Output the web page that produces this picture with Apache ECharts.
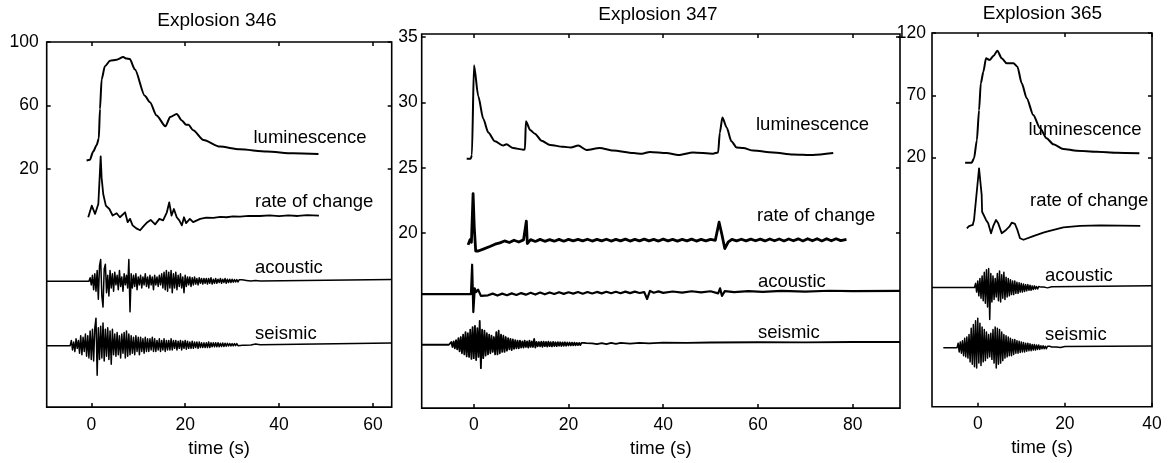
<!DOCTYPE html>
<html><head><meta charset="utf-8">
<script src="https://cdn.jsdelivr.net/npm/echarts@6/dist/echarts.min.js"></script>
<style>html,body{margin:0;padding:0;background:#fff}#c{width:1175px;height:463px}</style>
</head><body><div id="c"></div>
<script>
// ---------- DATA ----------
const titles = ['Explosion 346', 'Explosion 347', 'Explosion 365'];
const traceNames = ['luminescence', 'rate of change', 'acoustic', 'seismic'];
const xAxisName = 'time (s)';
const burstStep = 0.25; // sampling interval (s) of the burst arrays below

// ===== Explosion 346 =====
const x346Ticks = [0, 20, 40, 60];
const y346Labels = [20, 60, 100];
const lum346 = [[-1.0,25.4],[-0.3,25.8],[0.4,31.0],[1.15,35.1],[1.6,39.2],[1.85,57.8],[2.2,76.4],[2.9,84.7],[4.0,88.2],[5.4,88.8],[6.8,90.5],[7.5,89.6],[8.2,89.3],[9.3,82.6],[11.4,66.1],[12.5,62.0],[13.9,53.7],[15.8,46.9],[16.8,52.7],[18.2,54.7],[19.3,50.6],[20.2,47.9],[20.7,47.9],[21.7,44.4],[23.9,38.3],[27.4,34.1],[31.6,32.4],[37.4,31.0],[43.0,29.9],[48.4,29.5]];
const rate346 = [[-0.65,-10.4],[0.1,-3.1],[0.8,-8.3],[1.5,-2.1],[2.0,27.9],[2.2,14.4],[2.55,4.1],[3.1,-3.1],[3.85,-5.2],[4.55,-9.3],[5.4,-7.9],[6.1,-10.4],[7.2,-7.3],[7.75,-13.5],[8.25,-11.4],[8.8,-15.5],[9.7,-17.6],[10.4,-18.6],[11.1,-16.2],[11.95,-13.5],[12.65,-12.1],[13.6,-14.9],[14.5,-11.4],[15.3,-12.4],[16.1,-7.3],[16.6,-1.1],[17.1,-9.3],[17.6,-5.2],[18.2,-10.4],[18.75,-12.4],[19.3,-15.5],[19.75,-10.4],[20.2,-14.1],[21.0,-11.4],[21.7,-13.5],[23.2,-11.4],[24.5,-10.6],[26.0,-10.8],[27.5,-10.2],[28.8,-10.4],[30.2,-9.9],[31.7,-10.0],[33.5,-9.5],[35.9,-9.6],[38,-9.2],[40,-9.7],[42,-9.2],[44,-9.6],[46,-9.1],[48.5,-9.4]];
const ac346Pre = [[-9.5,-50.7]];
const ac346BurstStart = -0.5;
const ac346Burst = [
  -50.7,-48.5,-53,-47,-56,-46,-57,-44,
  -62,-41,-37,-60,-67,-43,-40,-58,
  -47,-60,-44,-55,-46,-57,-45,-53,
  -47,-56,-44,-54,-48,-57,-46,-53,
  -47,-55,-37,-70,-46,-55,-47,-54,
  -46,-56,-48,-53,-47,-55,-48,-53,
  -46,-54,-48,-55,-47,-53,-48,-56,
  -47,-53,-48,-54,-47,-53,-46,-55,
  -45,-56,-44,-57,-45,-55,-44,-58,
  -46,-55,-45,-56,-47,-54,-46,-55,
  -48,-58,-47,-54,-48,-53,-48,-54,
  -48.5,-53,-48,-52.5,-49,-53,-48.5,-52,
  -49,-52.5,-49,
  -52,-49,-52.5,-49,-52,-48.5,-52.5,-49.5,
  -52,-49,-52,-49.5,-51.5,-49,-52,-49.5,
  -51.5,-49,-52,-49.5,-51.5,-49.5,-51.5,-49.5,
  -51.3,-49.6,-51.2,-49.7,-51.2,-49.8,-51,-49.8,
  -51,-50,-50.8,-50.2];
const ac346Post = [[34,-50.6],[35,-50.2],[36,-50.5],[64,-49.6]];
const se346Pre = [[-9.5,-91.4]];
const se346BurstStart = -4.5;
const se346Burst = [
  -91.3,-88,-94,-89,-95,-87,-93,-88,
  -96,-85,-97,-86,-95,-84,-98,-85,
  -99,-82,-100,-81,-101,-80,-74,-110,
  -80,-100,-79,-99,-77,-101,-81,-98,
  -80,-100,-82,-103,-81,-97,-84,-98,
  -83,-97,-85,-99,-84,-96,-83,-99,
  -82,-98,-84,-97,-85,-96,-86,-97,
  -85,-95,-86,-97,-86,-95,-87,-96,
  -86,-95,-87,-95,-87,-94,-86,-95,
  -87,-95,-88,-94,-87,-95,-88,-94,
  -87,-95,-88,-94,-88,-94,-87,-94,
  -88,-93,-88,-94,-88.5,-93,-88,-94,
  -88.5,-93,-88,-93.5,-88.5,-93,-89,-93,
  -88.5,-93,-89,-92.5,-89,-93,-89,-92.5,
  -89.5,-92.5,-89.5,
  -92.5,-89.5,-92.5,-89,-92.5,-89.5,-92,-89.5,
  -92,-89.5,-92,-89.5,-92,-89.8,-91.8,-89.6,
  -91.8,-89.8,-91.7,-89.8,-91.5,-89.9,-91.5,-90,
  -91.4,-90,-91.3,-90,-91.3,-90.1,-91.2,-90.2,
  -91.1,-90.2,-91,-90.3];
const se346Post = [[34,-90.9],[35,-90.3],[36,-90.7],[64,-89.6]];

// ===== Explosion 347 =====
const x347Ticks = [0, 20, 40, 60, 80];
const y347Labels = [20, 25, 30, 35];
const lum347 = [[-1.5,25.69],[-0.65,25.69],[-0.4,25.97],[0.04,32.84],[0.95,30.46],[2.0,28.74],[3.06,27.69],[4.47,27.02],[6.2,26.69],[6.9,26.79],[8.3,26.5],[10.45,26.38],[10.8,26.4],[11.0,28.55],[11.9,27.88],[12.9,27.6],[14.3,27.07],[16.1,26.74],[18.9,26.6],[20.5,26.55],[22.05,26.69],[23.8,26.36],[26.6,26.5],[29.4,26.31],[33.7,26.12],[35.5,26.07],[37.2,26.21],[40.7,26.12],[43.2,25.97],[46.3,26.17],[50.5,26.07],[51.6,26.17],[51.95,27.69],[52.5,28.84],[53.4,28.07],[54.4,27.02],[55.5,26.55],[56.9,26.5],[59.0,26.31],[63.2,26.17],[67.4,26.02],[71.6,25.97],[75.9,26.12]];
const rate347 = [[-1.2,19.1],[-0.8,19.5],[-0.5,19.3],[-0.15,23.02],[0.1,20.44],[0.4,18.63],[0.95,18.63],[2,18.77],[3.4,18.97],[4.5,19.15],[5.5,19.25],[6.5,19.4],[7.5,19.28],[8.5,19.45],[9.5,19.32],[10.5,19.48],[11.1,20.92],[11.3,19.2],[12,19.5],[13,19.36],[14,19.52],[15,19.37],[16,19.5],[17,19.38],[18,19.52],[19,19.38],[20,19.52],[21,19.4],[22,19.52],[23,19.4],[24,19.53],[25,19.39],[26,19.52],[27,19.4],[28,19.53],[29,19.39],[30,19.52],[31,19.4],[32,19.54],[33,19.39],[34,19.52],[35,19.4],[36,19.54],[37,19.4],[38,19.52],[39,19.39],[40,19.54],[41,19.4],[42,19.52],[43,19.39],[44,19.52],[45,19.4],[46,19.54],[47,19.39],[48,19.52],[49,19.4],[50,19.52],[51,19.45],[51.8,20.83],[52.4,19.87],[53.0,18.82],[53.7,19.3],[54.5,19.52],[55.5,19.4],[56.5,19.53],[57.5,19.4],[58.5,19.54],[59.5,19.41],[60.5,19.54],[61.5,19.4],[62.5,19.55],[63.5,19.41],[64.5,19.55],[65.5,19.4],[66.5,19.55],[67.5,19.41],[68.5,19.56],[69.5,19.4],[70.5,19.57],[71.5,19.41],[72.5,19.57],[73.5,19.4],[74.5,19.57],[75.5,19.41],[76.5,19.57],[77.5,19.42],[78.7,19.52]];
const ac347 = [[-11,15.33],[-0.6,15.33],[-0.35,17.58],[-0.1,13.96],[0.2,15.77],[0.5,15.49],[0.9,15.68],[1.5,15.2],[3,15.24],[4,15.37],[5,15.22],[6,15.37],[7,15.25],[8,15.39],[9,15.27],[10,15.41],[11,15.29],[12,15.43],[13,15.3],[14,15.45],[15,15.32],[16,15.46],[17,15.34],[18,15.48],[19,15.35],[20,15.47],[21,15.37],[22,15.49],[23,15.36],[24,15.49],[25,15.38],[26,15.5],[27,15.39],[28,15.51],[29,15.4],[30,15.51],[31,15.4],[32,15.52],[33,15.41],[34,15.52],[35,15.42],[36,15.48],[36.6,14.96],[37.2,15.58],[38,15.44],[39,15.54],[40,15.43],[42,15.53],[44,15.45],[46,15.55],[48,15.46],[50,15.55],[51.6,15.39],[52.0,15.77],[52.4,15.2],[53,15.56],[55,15.49],[58,15.56],[61,15.5],[65,15.58],[70,15.53],[75,15.59],[80,15.56],[90,15.58]];
const se347Pre = [[-11,11.46],[-5.25,11.46]];
const se347BurstStart = -5.0;
const se347Burst = [
  11.48,11.67,11.29,11.72,11.19,11.81,11.10,11.96,
  10.95,12.05,10.81,12.24,10.72,12.43,10.57,12.34,
  10.53,12.62,10.38,12.81,10.43,12.91,10.29,12.72,
  10.53,13.29,9.67,12.62,10.43,12.53,10.62,12.34,
  10.72,12.24,10.81,12.15,10.91,12.05,10.72,12.43,
  10.72,12.53,10.81,12.24,10.91,12.15,10.91,12.05,
  11.0,11.96,11.10,11.91,11.05,11.86,11.15,11.81,
  11.19,11.77,11.19,11.77,11.24,11.72,11.24,11.77,
  11.29,11.72,11.24,11.77,11.29,11.72,11.29,11.91,
  11.24,11.67,11.34,11.67,11.34,
  11.7,11.3,11.7,11.35,11.68,11.32,11.7,11.35,
  11.66,11.33,11.68,11.36,11.65,11.35,11.66,11.38,
  11.65,11.36,11.64,11.38,11.65,11.38,11.63,11.4,
  11.63,11.4,11.62,11.42,11.62,11.42,11.6,11.43,
  11.6,11.43,11.6,11.45,11.6,11.45,11.58,11.47];
const se347Post = [[25,11.57],[26,11.5],[27,11.58],[28,11.5],[29,11.6],[30,11.52],[31,11.6],[33,11.55],[35,11.6],[37,11.56],[40,11.62],[45,11.6],[50,11.63],[60,11.65],[70,11.64],[80,11.67],[90,11.67]];

// ===== Explosion 365 =====
const x365Ticks = [0, 20, 40];
const y365Labels = [20, 70, 120];
const lum365 = [[-2.9,15.9],[-1.4,15.9],[-0.85,19.4],[-0.2,34],[0.3,58],[0.7,79.6],[1.3,89],[1.9,99.7],[2.7,98.3],[3.6,101.5],[4.5,105.8],[5.5,99.7],[6.65,95.7],[8.2,95.7],[9.1,93],[10.1,79.6],[11.25,67.6],[12.75,54.2],[14.3,43.5],[15.8,35.5],[17.35,30.7],[19.65,26.9],[22.7,25.5],[27.3,24.7],[31.9,23.9],[37.1,23.4]];
const rate365 = [[-2.5,-36.8],[-2.0,-35],[-1.15,-34.1],[-0.85,-30],[0.3,11.4],[0.9,-10],[1.0,-23.5],[1.3,-22.1],[1.9,-30.1],[2.4,-32.8],[3.05,-40.8],[3.6,-34.6],[4.2,-30.1],[4.7,-32.8],[5.5,-40.8],[6.5,-38.1],[7.25,-35.5],[7.8,-32.3],[8.55,-33.3],[9.1,-38.1],[9.7,-44.8],[10.5,-46],[12.75,-43.0],[15.05,-40.3],[15.85,-39.5],[19.65,-36.0],[23.5,-34.9],[28.1,-34.5],[37.3,-34.9]];
const ac365Pre = [[-10.5,-84.4]];
const ac365BurstStart = -0.75;
const ac365Burst = [
  -84.4,-81,-88,-79,-91,-77,-93,-75,
  -95,-72,-97,-70,-100,-69,-110,-73,
  -96,-75,-94,-77,-92,-73,-95,-71,
  -96,-74,-93,-72,-94,-76,-92,-77,
  -91,-78,-90,-79,-90,-79,-89,-80,
  -89,-80.5,-88,-81,-88,-81.5,-87.5,-82,
  -87,-82,-86.5,-82.5,-86.5,-83,-86,-83,
  -85.5,-83.5,-85.5,-83.5,-85,-84,-85,-84];
const ac365Post = [[15.5,-84.2],[16,-84.6],[17,-83.7],[40,-82.9]];
const se365Pre = [[-7.9,-132.6]];
const se365BurstStart = -4.75;
const se365Burst = [
  -132.6,-129,-136,-128,-137,-127,-139,-125,
  -140,-124,-141,-122,-144,-117,-146,-114,
  -148,-111,-149,-109,-145,-113,-147,-116,
  -144,-118,-143,-120,-141,-122,-140,-121,
  -142,-118,-145,-116,-149,-117,-146,-118,
  -145,-120,-143,-122,-141,-123,-140,-124,
  -139,-125,-139,-126,-138,-126,-137,-127,
  -137,-127.5,-136.5,-128,-136,-128.5,-136,-129,
  -135.5,-129,-135,-129.5,-135,-130,-134.5,-130,
  -134.5,-130.5,-134,-130.5,-134,-131,-133.5,-131,
  -133.5,-131.5,-133.5,-131.5,-133,-131.5,-133,-132,
  -133,-132,-132.8,-132];
const se365Post = [[19,-132.5],[20,-131.6],[40,-131.3]];

// ---------- BUILD ----------
function trace(pre, start, burst, post) {
  return pre.concat(burst.map((v, i) => [start + i * burstStep, v])).concat(post);
}
const ac346 = trace(ac346Pre, ac346BurstStart, ac346Burst, ac346Post);
const se346 = trace(se346Pre, se346BurstStart, se346Burst, se346Post);
const se347 = trace(se347Pre, se347BurstStart, se347Burst, se347Post);
const ac365 = trace(ac365Pre, ac365BurstStart, ac365Burst, ac365Post);
const se365 = trace(se365Pre, se365BurstStart, se365Burst, se365Post);

const FONT = '"Liberation Sans", Arial, Helvetica, sans-serif';
const panels = [
  { grid: {left: 46.7, top: 42, width: 345, height: 371}, xr: [-9.5, 64], yr: [-130, 100],
    xt: x346Ticks, yl: y346Labels, ym: 8, xm: 9, ng: 30.5,
    data: [lum346, rate346, ac346, se346], w: [2.0, 1.8, 1.5, 1.5],
    titlePos: [217, 21], namePos: [[253.5,138],[255,201.5],[255,268],[255,333.5]] },
  { grid: {left: 421.7, top: 34, width: 478.3, height: 377.7}, xr: [-11, 90], yr: [6.614, 35.227],
    xt: x347Ticks, yl: y347Labels, ym: 4, xm: 8, ng: 29,
    data: [lum347, rate347, ac347, se347], w: [2.0, 2.8, 2.2, 1.8],
    titlePos: [658, 15], namePos: [[756,125],[757,216],[758,281.5],[758,333]] },
  { grid: {left: 932, top: 33, width: 220, height: 373.7}, xr: [-10.5, 40], yr: [-180, 120],
    xt: x365Ticks, yl: y365Labels, ym: 6, xm: 8, ng: 32,
    data: [lum365, rate365, ac365, se365], w: [2.0, 1.8, 1.5, 1.5],
    titlePos: [1042.5, 14], namePos: [[1028.5,130],[1030,201],[1045,275.5],[1045,335]] }
];

const grid = [], xAxis = [], yAxis = [], series = [], graphic = [];
const tickStyle = {inside: true, length: 4, lineStyle: {color: '#000', width: 1.5}};
const noLine = {show: false, onZero: false};
panels.forEach((p, i) => {
  grid.push(Object.assign({show: true, borderColor: '#000', borderWidth: 1.6, containLabel: false}, p.grid));
  const common = {type: 'value', gridIndex: i, min: p.xr[0], max: p.xr[1], splitLine: {show: false}, axisLine: noLine};
  xAxis.push(Object.assign({}, common, {
    position: 'bottom',
    axisTick: Object.assign({customValues: p.xt}, tickStyle),
    axisLabel: {customValues: p.xt, margin: p.xm, color: '#000', fontSize: 17.5, fontFamily: FONT},
    name: xAxisName, nameLocation: 'middle', nameGap: p.ng,
    nameTextStyle: {color: '#000', fontSize: 18.5, fontFamily: FONT}
  }));
  xAxis.push(Object.assign({}, common, {
    position: 'top',
    axisTick: Object.assign({customValues: p.xt}, tickStyle),
    axisLabel: {show: false}
  }));
  const ycommon = {type: 'value', gridIndex: i, min: p.yr[0], max: p.yr[1], splitLine: {show: false}, axisLine: noLine};
  yAxis.push(Object.assign({}, ycommon, {
    position: 'left',
    axisTick: Object.assign({customValues: p.yl}, tickStyle),
    axisLabel: {customValues: p.yl, margin: p.ym, color: '#000', fontSize: 17.5, fontFamily: FONT}
  }));
  yAxis.push(Object.assign({}, ycommon, {
    position: 'right',
    axisTick: Object.assign({customValues: p.yl}, tickStyle),
    axisLabel: {show: false}
  }));
  p.data.forEach((d, k) => {
    series.push({
      type: 'line', name: traceNames[k] + ' ' + i, xAxisIndex: 2 * i, yAxisIndex: 2 * i,
      data: d, symbol: 'none', showSymbol: false, animation: false,
      smooth: k === 0 ? 0.25 : false, smoothMonotone: 'x',
      lineStyle: {color: '#000', width: p.w[k], join: 'round'}, z: 3
    });
  });
  graphic.push({type: 'text', x: p.titlePos[0], y: p.titlePos[1], z: 10,
    style: {text: titles[i], fill: '#000', fontSize: 19, fontFamily: FONT, align: 'center', verticalAlign: 'middle'}});
  p.namePos.forEach((pos, k) => {
    graphic.push({type: 'text', x: pos[0], y: pos[1], z: 10,
      style: {text: traceNames[k], fill: '#000', fontSize: 18.5, fontFamily: FONT, align: 'left', verticalAlign: 'middle'}});
  });
});

const chart = echarts.init(document.getElementById('c'), null, {renderer: 'canvas'});
chart.setOption({
  backgroundColor: '#fff', animation: false,
  grid, xAxis, yAxis, series, graphic
});
</script></body></html>
